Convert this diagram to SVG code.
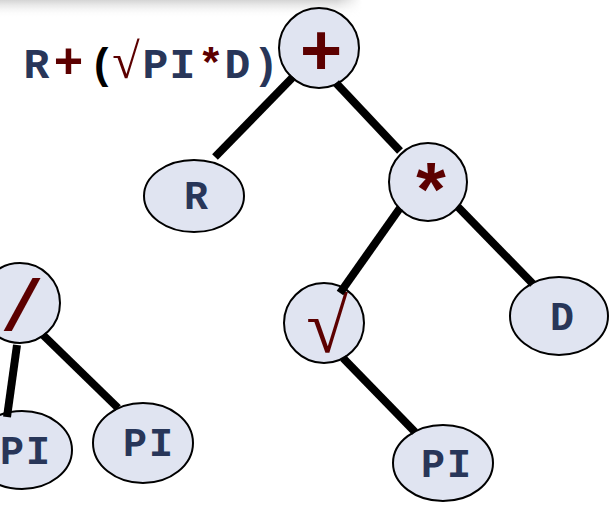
<svg xmlns="http://www.w3.org/2000/svg" width="610" height="506" viewBox="0 0 610 506">
<defs>
<linearGradient id="shadeV" x1="0" y1="0" x2="0" y2="1">
<stop offset="0" stop-color="#cfcfcf" stop-opacity="0.9"/>
<stop offset="1" stop-color="#ffffff" stop-opacity="0"/>
</linearGradient>
<linearGradient id="shadeH" x1="0" y1="0" x2="1" y2="0">
<stop offset="0" stop-color="#fff" stop-opacity="1"/>
<stop offset="0.93" stop-color="#fff" stop-opacity="1"/>
<stop offset="1" stop-color="#fff" stop-opacity="0"/>
</linearGradient>
<mask id="m"><rect x="0" y="0" width="362" height="18" fill="url(#shadeH)"/></mask>
</defs>
<style>
.node{fill:#e0e4f1;stroke:#000;stroke-width:2}
.lbl{font-family:"Liberation Mono",monospace;font-weight:bold;font-size:40px;fill:#283659;text-anchor:middle;letter-spacing:2px}
.op{font-family:"Liberation Mono",monospace;font-weight:bold;fill:#5c0000;text-anchor:middle}
.sq{font-family:"Liberation Serif",serif;fill:#5c0000;text-anchor:middle}
.edge{stroke:#000;stroke-width:8;stroke-linecap:butt;fill:none}
.t{font-family:"Liberation Mono",monospace;font-weight:bold;font-size:43px;text-anchor:middle}
</style>
<rect width="610" height="506" fill="#fff"/>
<rect x="0" y="0" width="362" height="18" fill="url(#shadeV)" mask="url(#m)"/>

<g id="title">
<text class="t" y="78"><tspan x="36.5" fill="#283659">R</tspan><tspan x="68.5" fill="#5c0000" font-size="50">+</tspan><tspan x="102" fill="#000">(</tspan><tspan x="126" fill="#5c0000" font-family="Liberation Serif, serif" font-weight="normal" font-size="50">√</tspan><tspan x="155.5" fill="#283659">P</tspan><tspan x="182.5" fill="#283659">I</tspan><tspan x="211" fill="#5c0000">*</tspan><tspan x="237.5" fill="#283659">D</tspan><tspan x="266" fill="#283659">)</tspan></text>
</g>

<g id="node-plus"><circle class="node" cx="319" cy="48" r="40"/><text class="op" x="321" y="75" font-size="72">+</text></g>
<g id="node-R"><ellipse class="node" cx="194" cy="196" rx="50" ry="36"/><text class="lbl" x="197" y="209">R</text></g>
<g id="node-mul"><circle class="node" cx="428" cy="182" r="39"/><text class="op" x="431" y="218" font-size="76">*</text></g>
<g id="node-sqrt"><circle class="node" cx="324" cy="323" r="40"/><text class="sq" x="327" y="352" font-size="76">√</text></g>
<g id="node-D"><ellipse class="node" cx="559" cy="316" rx="49" ry="39"/><text class="lbl" x="563" y="330">D</text></g>
<g id="node-PI-r"><ellipse class="node" cx="443" cy="463" rx="50" ry="38"/><text class="lbl" x="447" y="477">PI</text></g>
<g id="node-div"><circle class="node" cx="20" cy="303" r="40"/><text class="op" x="22" y="330" font-size="72">/</text></g>
<g id="node-PI-l"><ellipse class="node" cx="22" cy="450" rx="50" ry="39"/><text class="lbl" x="26" y="464">PI</text></g>
<g id="node-PI-m"><ellipse class="node" cx="143" cy="443" rx="50" ry="40"/><text class="lbl" x="149" y="456">PI</text></g>

<g id="connectors">
<line class="edge" x1="293" y1="77" x2="215" y2="157"/>
<line class="edge" x1="336" y1="83" x2="400" y2="151"/>
<line class="edge" x1="400" y1="208" x2="340" y2="293"/>
<line class="edge" x1="458" y1="207" x2="533" y2="284"/>
<line class="edge" x1="343" y1="358" x2="415" y2="432"/>
<line class="edge" x1="17" y1="345" x2="7" y2="417"/>
<line class="edge" x1="43" y1="335" x2="118" y2="408"/>
</g>
</svg>
